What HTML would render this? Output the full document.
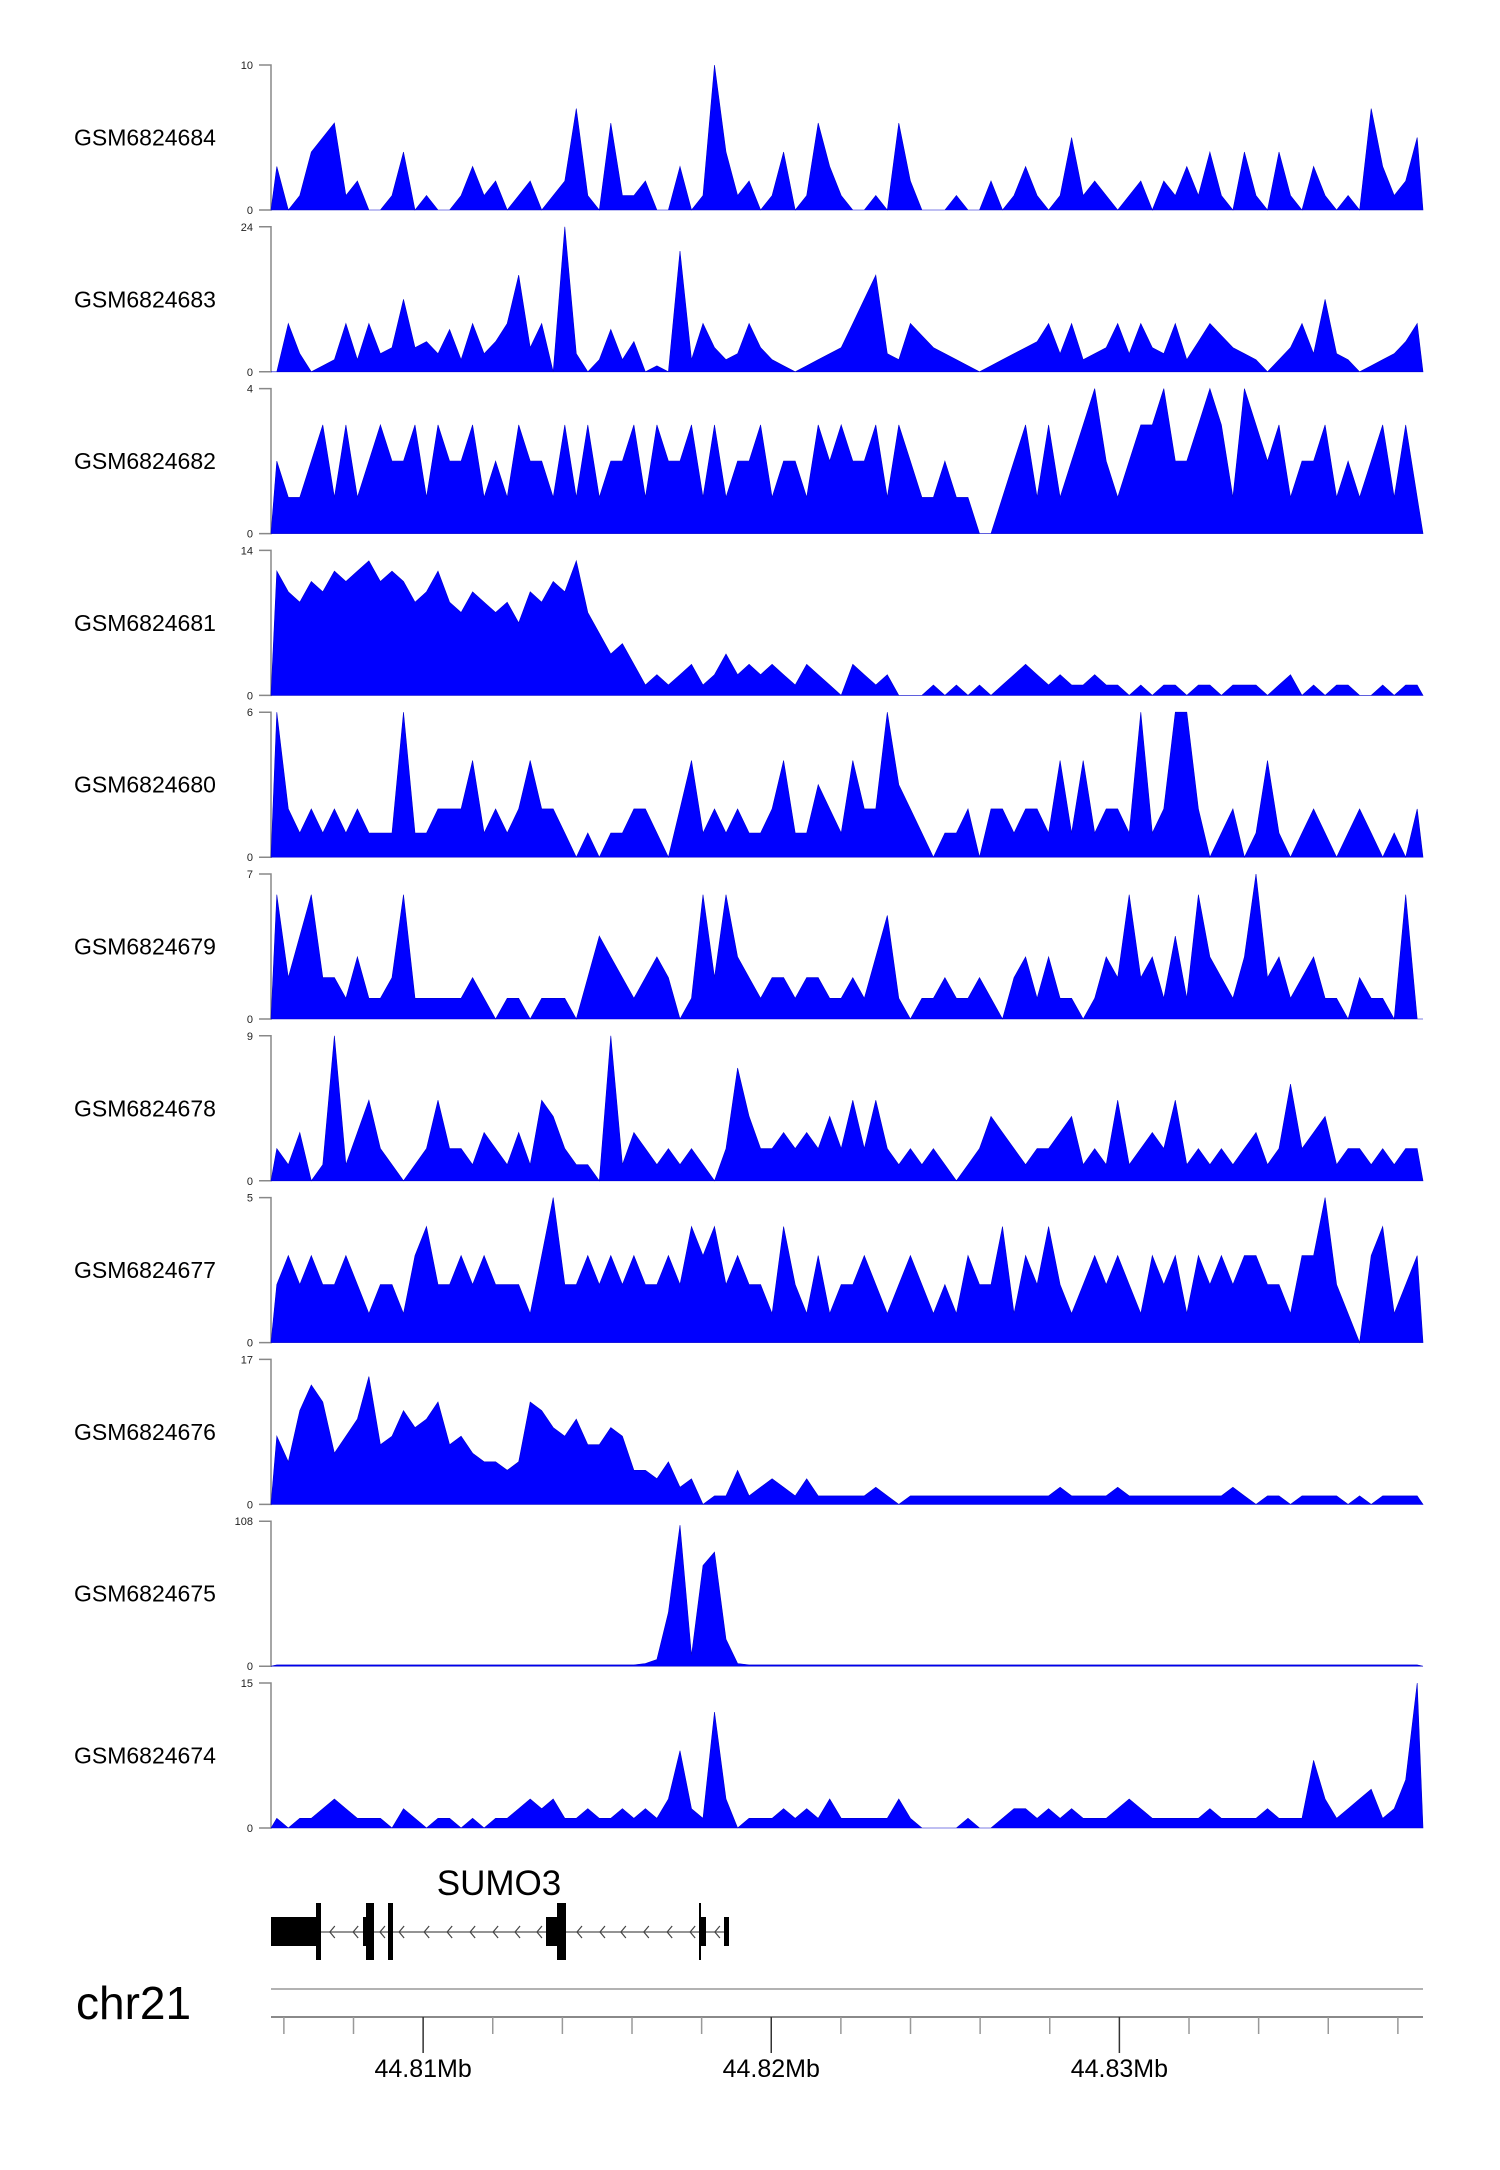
<!DOCTYPE html>
<html><head><meta charset="utf-8"><title>SUMO3 coverage tracks</title>
<style>
html,body{margin:0;padding:0;background:#fff;}
svg{display:block;font-family:"Liberation Sans",Arial,sans-serif;}
</style></head>
<body>
<svg id="chart" width="1500" height="2170" viewBox="0 0 1500 2170" xmlns="http://www.w3.org/2000/svg">
<g id="tracks"></g>
<g id="gene">
  <text x="499" y="1895" font-size="35" text-anchor="middle" fill="#000">SUMO3</text>
  <line x1="271" y1="1932" x2="729" y2="1932" stroke="#555" stroke-width="1.2"/>
  <g id="arrows" stroke="#444" stroke-width="1.2" fill="none"></g>
  <rect x="271" y="1917" width="45" height="29" fill="#000"/>
  <rect x="316" y="1903" width="5" height="57" fill="#000"/>
  <rect x="363" y="1917" width="4" height="29" fill="#000"/>
  <rect x="366" y="1903" width="8" height="57" fill="#000"/>
  <rect x="388" y="1903" width="5" height="57" fill="#000"/>
  <rect x="546" y="1917" width="11" height="29" fill="#000"/>
  <rect x="557" y="1903" width="9" height="57" fill="#000"/>
  <rect x="699" y="1903" width="2" height="57" fill="#000"/>
  <rect x="701" y="1917" width="5" height="29" fill="#000"/>
  <rect x="724" y="1917" width="5" height="29" fill="#000"/>
</g>
<text x="76" y="2019" font-size="46" fill="#000">chr21</text>
<line x1="271" y1="1989" x2="1423" y2="1989" stroke="#999" stroke-width="1.5"/>
<line x1="271" y1="2017" x2="1423" y2="2017" stroke="#444" stroke-width="1.2"/>
<g id="xaxis"></g>
</svg>
<script>
var trackNames = ["GSM6824684","GSM6824683","GSM6824682","GSM6824681","GSM6824680","GSM6824679","GSM6824678","GSM6824677","GSM6824676","GSM6824675","GSM6824674"];
var trackMax = [10,24,4,14,6,7,9,5,17,108,15];
var s684 = [3,0,1,4,5,6,1,2,0,0, 1,4,0,1,0,0,1,3,1,2, 0,1,2,0,1,2,7,1,0,6, 1,1,2,0,0,3,0,1,10,4, 1,2,0,1,4,0,1,6,3,1, 0,0,1,0,6,2,0,0,0,1, 0,0,2,0,1,3,1,0,1,5, 1,2,1,0,1,2,0,2,1,3, 1,4,1,0,4,1,0,4,1,0, 3,1,0,1,0,7,3,1,2,5];
var s683 = [0,8,3,0,1,2,8,2,8,3, 4,12,4,5,3,7,2,8,3,5, 8,16,4,8,0,24,3,0,2,7, 2,5,0,1,0,20,2,8,4,2, 3,8,4,2,1,0,1,2,3,4, 8,12,16,3,2,8,6,4,3,2, 1,0,1,2,3,4,5,8,3,8, 2,3,4,8,3,8,4,3,8,2, 5,8,6,4,3,2,0,2,4,8, 3,12,3,2,0,1,2,3,5,8];
var s682 = [2,1,1,2,3,1,3,1,2,3, 2,2,3,1,3,2,2,3,1,2, 1,3,2,2,1,3,1,3,1,2, 2,3,1,3,2,2,3,1,3,1, 2,2,3,1,2,2,1,3,2,3, 2,2,3,1,3,2,1,1,2,1, 1,0,0,1,2,3,1,3,1,2, 3,4,2,1,2,3,3,4,2,2, 3,4,3,1,4,3,2,3,1,2, 2,3,1,2,1,2,3,1,3,1];
var s681 = [12,10,9,11,10,12,11,12,13,11, 12,11,9,10,12,9,8,10,9,8, 9,7,10,9,11,10,13,8,6,4, 5,3,1,2,1,2,3,1,2,4, 2,3,2,3,2,1,3,2,1,0, 3,2,1,2,0,0,0,1,0,1, 0,1,0,1,2,3,2,1,2,1, 1,2,1,1,0,1,0,1,1,0, 1,1,0,1,1,1,0,1,2,0, 1,0,1,1,0,0,1,0,1,1];
var s680 = [6,2,1,2,1,2,1,2,1,1, 1,6,1,1,2,2,2,4,1,2, 1,2,4,2,2,1,0,1,0,1, 1,2,2,1,0,2,4,1,2,1, 2,1,1,2,4,1,1,3,2,1, 4,2,2,6,3,2,1,0,1,1, 2,0,2,2,1,2,2,1,4,1, 4,1,2,2,1,6,1,2,6,6, 2,0,1,2,0,1,4,1,0,1, 2,1,0,1,2,1,0,1,0,2];
var s679 = [6,2,4,6,2,2,1,3,1,1, 2,6,1,1,1,1,1,2,1,0, 1,1,0,1,1,1,0,2,4,3, 2,1,2,3,2,0,1,6,2,6, 3,2,1,2,2,1,2,2,1,1, 2,1,3,5,1,0,1,1,2,1, 1,2,1,0,2,3,1,3,1,1, 0,1,3,2,6,2,3,1,4,1, 6,3,2,1,3,7,2,3,1,2, 3,1,1,0,2,1,1,0,6,0];
var s678 = [2,1,3,0,1,9,1,3,5,2, 1,0,1,2,5,2,2,1,3,2, 1,3,1,5,4,2,1,1,0,9, 1,3,2,1,2,1,2,1,0,2, 7,4,2,2,3,2,3,2,4,2, 5,2,5,2,1,2,1,2,1,0, 1,2,4,3,2,1,2,2,3,4, 1,2,1,5,1,2,3,2,5,1, 2,1,2,1,2,3,1,2,6,2, 3,4,1,2,2,1,2,1,2,2];
var s677 = [2,3,2,3,2,2,3,2,1,2, 2,1,3,4,2,2,3,2,3,2, 2,2,1,3,5,2,2,3,2,3, 2,3,2,2,3,2,4,3,4,2, 3,2,2,1,4,2,1,3,1,2, 2,3,2,1,2,3,2,1,2,1, 3,2,2,4,1,3,2,4,2,1, 2,3,2,3,2,1,3,2,3,1, 3,2,3,2,3,3,2,2,1,3, 3,5,2,1,0,3,4,1,2,3];
var s676 = [8,5,11,14,12,6,8,10,15,7, 8,11,9,10,12,7,8,6,5,5, 4,5,12,11,9,8,10,7,7,9, 8,4,4,3,5,2,3,0,1,1, 4,1,2,3,2,1,3,1,1,1, 1,1,2,1,0,1,1,1,1,1, 1,1,1,1,1,1,1,1,2,1, 1,1,1,2,1,1,1,1,1,1, 1,1,1,2,1,0,1,1,0,1, 1,1,1,0,1,0,1,1,1,1];
var s675 = [1,1,1,1,1,1,1,1,1,1, 1,1,1,1,1,1,1,1,1,1, 1,1,1,1,1,1,1,1,1,1, 1,1,2,5,40,105,8,75,85,20, 2,1,1,1,1,1,1,1,1,1, 1,1,1,1,1,1,1,1,1,1, 1,1,1,1,1,1,1,1,1,1, 1,1,1,1,1,1,1,1,1,1, 1,1,1,1,1,1,1,1,1,1, 1,1,1,1,1,1,1,1,1,1];
var s674 = [1,0,1,1,2,3,2,1,1,1, 0,2,1,0,1,1,0,1,0,1, 1,2,3,2,3,1,1,2,1,1, 2,1,2,1,3,8,2,1,12,3, 0,1,1,1,2,1,2,1,3,1, 1,1,1,1,3,1,0,0,0,0, 1,0,0,1,2,2,1,2,1,2, 1,1,1,2,3,2,1,1,1,1, 1,2,1,1,1,1,2,1,1,1, 7,3,1,2,3,4,1,2,5,15];
var genomeTicks = [44.806,44.808,44.81,44.812,44.814,44.816,44.818,44.82,44.822,44.824,44.826,44.828,44.83,44.832,44.834,44.836,44.838];
var genomeLabels = ["44.81Mb","44.82Mb","44.83Mb"];
var genomeLabelPos = [44.81,44.82,44.83];
var arrowPos = [44.80732,44.80799,44.80876,44.80931,44.81003,44.81069,44.81135,44.81201,44.81264,44.81327,44.81442,44.81508,44.81568,44.81634,44.81701,44.81767,44.81838];

var series = [s684,s683,s682,s681,s680,s679,s678,s677,s676,s675,s674];
var NS = "http://www.w3.org/2000/svg";
var X0 = 271, X1 = 1432, XT = 1423, TOP0 = 65, STEP = 161.8, H = 145;
var G0 = 44.80563, G1 = 44.83898;
function gx(v){ return X0 + (v - G0) / (G1 - G0) * (X1 - X0); }
function mk(tag, attrs, parent){ var e = document.createElementNS(NS, tag); for (var k in attrs) e.setAttribute(k, attrs[k]); parent.appendChild(e); return e; }

function drawTracks(){
  var tg = document.getElementById("tracks");
  for (var t = 0; t < series.length; t++) {
    var ty = TOP0 + t * STEP, base = ty + H, vals = series[t], n = vals.length, mx = trackMax[t];
    var g = mk("g", {}, tg);
    
    
    var lab = mk("text", {x: 74, y: ty + H/2 + 8, "font-size": 23, fill: "#000"}, g);
    lab.textContent = trackNames[t];
    
    
    var ax = mk("path", {d: "M259," + ty + "H" + X0 + "V" + base + "H259", stroke: "#888", "stroke-width": 1.5, fill: "none"}, g);
    
    
    var tmax = mk("text", {x: 253, y: ty + 4, "font-size": 11, "text-anchor": "end", fill: "#222"}, g);
    tmax.textContent = String(mx);
    
    
    var tmin = mk("text", {x: 253, y: base + 4, "font-size": 11, "text-anchor": "end", fill: "#222"}, g);
    tmin.textContent = "0";
    
    
    var w = (XT - X0) / n;
    var pts = [X0 + "," + base];
    for (var i = 0; i < n; i++) {
      var y = base - Math.min(vals[i], mx) / mx * H;
      pts.push((X0 + (i + 0.5) * w).toFixed(1) + "," + y.toFixed(1));
    }
    pts.push(XT + "," + base);
    var area = mk("polygon", {points: pts.join(" "), fill: "#0000ff", stroke: "#0000cc", "stroke-width": 0.6}, g);
    
    
  }
}
drawTracks();

var ag = document.getElementById("arrows");
for (var a = 0; a < arrowPos.length; a++) {
  var ax0 = gx(arrowPos[a]);
  var ar = mk("path", {d: "M" + (ax0 + 5) + ",1926 L" + ax0 + ",1932 L" + (ax0 + 5) + ",1938"}, ag);
  
  
}

var xg = document.getElementById("xaxis");
for (var k = 0; k < genomeTicks.length; k++) {
  var tx = gx(genomeTicks[k]);
  var major = genomeLabelPos.some(function(p){ return Math.abs(p - genomeTicks[k]) < 1e-6; });
  var tl = mk("line", {x1: tx, y1: 2017, x2: tx, y2: major ? 2053 : 2034, stroke: major ? "#333" : "#999", "stroke-width": 1.5}, xg);
  
  
}
for (var m = 0; m < genomeLabels.length; m++) {
  var lt = mk("text", {x: gx(genomeLabelPos[m]), y: 2077, "font-size": 25, "text-anchor": "middle", fill: "#000"}, xg);
  lt.textContent = genomeLabels[m];
  
  
}
</script>
</body></html>
